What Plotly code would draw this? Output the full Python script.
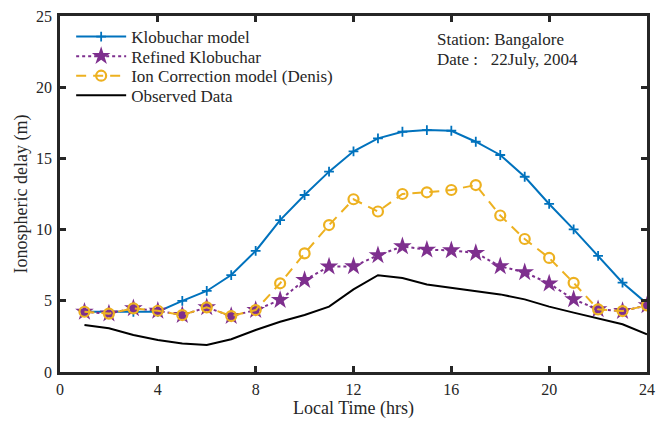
import plotly.graph_objects as go

hours = list(range(1, 25))
klobuchar = [4.23, 4.23, 4.23, 4.23, 5.0, 5.69, 6.81, 8.5, 10.67, 12.43, 14.07, 15.5,
             16.41, 16.87, 16.99, 16.94, 16.17, 15.24, 13.71, 11.8, 10.02, 8.15, 6.27, 4.8]
refined = [4.23, 4.1, 4.47, 4.3, 4.0, 4.54, 3.93, 4.35, 5.06, 6.46, 7.4, 7.42,
           8.19, 8.82, 8.59, 8.54, 8.36, 7.42, 7.0, 6.21, 5.1, 4.4, 4.28, 4.68]
ion_corr = [4.23, 4.1, 4.47, 4.3, 4.0, 4.54, 3.93, 4.35, 6.23, 8.33, 10.32, 12.13,
            11.27, 12.5, 12.62, 12.78, 13.13, 10.99, 9.34, 8.01, 6.26, 4.4, 4.28, 4.68]
observed = [3.3, 3.07, 2.6, 2.25, 2.01, 1.9, 2.3, 2.95, 3.53, 4.0, 4.59, 5.8,
            6.8, 6.6, 6.15, 5.91, 5.68, 5.45, 5.1, 4.59, 4.17, 3.77, 3.35, 2.65]
x_ticks = [0, 4, 8, 12, 16, 20, 24]
y_ticks = [0, 5, 10, 15, 20, 25]

FONT = "Liberation Serif"
TXT = "#262626"

fig = go.Figure()
fig.add_trace(go.Scatter(x=hours, y=klobuchar, mode="lines+markers", name="Klobuchar model",
                         legend="legend",
                         line=dict(color="#0072BD", width=2),
                         marker=dict(symbol="cross-thin", size=7, line=dict(color="#0072BD", width=1.8))))
fig.add_trace(go.Scatter(x=hours, y=refined, mode="lines+markers", name="Refined Klobuchar",
                         legend="legend2",
                         line=dict(color="#7E2F8E", width=2, dash="dot"),
                         marker=dict(symbol="star", size=14, color="#7E2F8E")))
fig.add_trace(go.Scatter(x=hours, y=ion_corr, mode="lines+markers", name="Ion Correction model (Denis)",
                         legend="legend3",
                         line=dict(color="#EDB120", width=2, dash="10px,7px"),
                         marker=dict(symbol="circle-open", size=10, color="#EDB120", line=dict(width=2.2))))
fig.add_trace(go.Scatter(x=hours, y=observed, mode="lines", name="Observed Data",
                         legend="legend4",
                         line=dict(color="black", width=2)))

fig.add_annotation(x=0.639, y=0.935, xref="paper", yref="paper", xanchor="left", yanchor="middle",
                   text="Station: Bangalore", showarrow=False, font=dict(family=FONT, size=17, color=TXT))
fig.add_annotation(x=0.639, y=0.879, xref="paper", yref="paper", xanchor="left", yanchor="middle",
                   text="Date :   22July, 2004", showarrow=False, font=dict(family=FONT, size=17, color=TXT))

axis_common = dict(showline=True, linecolor=TXT, linewidth=2.5, mirror="ticks",
                   ticks="inside", ticklen=6, tickwidth=2.5, tickcolor=TXT,
                   showgrid=False, zeroline=False,
                   tickfont=dict(family=FONT, size=16, color=TXT))

def leg(y):
    return dict(x=0.019, y=y, xanchor="left", yanchor="middle", bgcolor="rgba(0,0,0,0)",
                font=dict(family=FONT, size=17, color=TXT), itemwidth=50,
                itemsizing="trace")

fig.update_layout(
    width=656, height=421,
    margin=dict(l=60, r=9, t=16, b=49, autoexpand=False),
    paper_bgcolor="white", plot_bgcolor="white",
    font=dict(family=FONT, color=TXT),
    showlegend=True,
    legend=leg(0.941), legend2=leg(0.886), legend3=leg(0.831), legend4=leg(0.776),
    xaxis=dict(range=[0, 24], tickvals=x_ticks,
               title=dict(text="Local Time (hrs)", font=dict(family=FONT, size=18, color=TXT), standoff=2),
               ticklabelstandoff=1,
               **axis_common),
    yaxis=dict(range=[0, 25], tickvals=y_ticks,
               title=dict(text="Ionospheric delay (m)", font=dict(family=FONT, size=18, color=TXT), standoff=4),
               ticklabelstandoff=2,
               **axis_common),
)

fig.write_html("out.html", config={"displayModeBar": False},
               post_script="document.body.style.margin='0px';")
